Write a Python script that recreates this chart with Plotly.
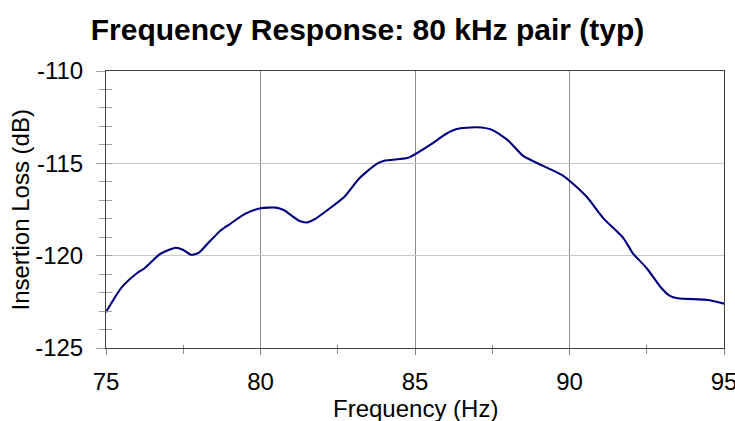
import plotly.graph_objects as go

freq = [75.0, 75.5, 76.0, 76.25, 76.75, 77.25, 77.5, 77.75, 78.0, 78.3, 78.7, 79.0, 79.5, 80.0,
        80.5, 80.75, 81.25, 81.5, 81.75, 82.2, 82.7, 83.2, 83.75, 84.0, 84.75, 85.0, 85.5, 86.0,
        86.35, 87.0, 87.5, 88.0, 88.5, 89.15, 89.75, 90.0, 90.55, 91.1, 91.75, 92.05, 92.5, 92.95,
        93.25, 93.5, 94.5, 95.0]
loss = [-123.06, -121.73, -120.95, -120.68, -119.91, -119.57, -119.69, -119.95, -119.85, -119.33,
        -118.65, -118.30, -117.74, -117.43, -117.40, -117.53, -118.11, -118.20, -118.03, -117.49,
        -116.84, -115.81, -115.04, -114.86, -114.71, -114.51, -113.99, -113.41, -113.14, -113.05,
        -113.19, -113.74, -114.60, -115.14, -115.63, -115.94, -116.80, -117.98, -119.06, -119.87,
        -120.68, -121.71, -122.18, -122.31, -122.40, -122.60]

x_ticks = [75, 80, 85, 90, 95]
x_minor = [77.5, 82.5, 87.5, 92.5]
y_ticks = [-110, -115, -120, -125]

title_text = "Frequency Response: 80 kHz pair (typ)"
x_title = "Frequency (Hz)"
y_title = "Insertion Loss (dB)"

FONT = "Liberation Sans, Arial, sans-serif"
W, H = 735, 421
L, R, T, B = 106, 11, 71, 73
PW, PH = W - L - R, H - T - B

fig = go.Figure()
fig.add_trace(go.Scatter(x=freq, y=loss, mode="lines",
                         line=dict(color="#000080", width=2.1, shape="spline", smoothing=0.6),
                         showlegend=False, hoverinfo="skip"))
# invisible trace to anchor the secondary (inside tick) axes
fig.add_trace(go.Scatter(x=[freq[0]], y=[loss[0]], xaxis="x2", yaxis="y2", mode="markers",
                         marker=dict(opacity=0), showlegend=False, hoverinfo="skip"))

fig.update_layout(
    width=W, height=H,
    margin=dict(l=L, r=R, t=T, b=B, autoexpand=False),
    paper_bgcolor="white", plot_bgcolor="white",
    font=dict(family=FONT, size=24, color="black"),
    title=dict(text="<b>" + title_text + "</b>", x=0.5, xanchor="center",
               y=1 - 29 / H, yanchor="middle", yref="container",
               font=dict(family=FONT, size=30, color="black")),
    xaxis=dict(range=[75, 95], tickvals=x_ticks, ticktext=[str(v) for v in x_ticks],
               automargin=False, ticklabeloverflow="allow",
               showgrid=True, gridcolor="#8c8c8c", gridwidth=1,
               showline=True, linecolor="#404040", linewidth=1, mirror=True,
               ticks="outside", ticklen=6, tickcolor="#808080", ticklabelstandoff=6,
               minor=dict(tickvals=x_minor, ticks="outside", ticklen=5,
                          tickcolor="#909090", showgrid=False),
               zeroline=False),
    yaxis=dict(range=[-125, -110], tickvals=y_ticks, ticktext=[str(v) for v in y_ticks],
               automargin=False, ticklabeloverflow="allow",
               showgrid=True, gridcolor="#c8c8c8", gridwidth=1,
               showline=True, linecolor="#404040", linewidth=1, mirror=True,
               ticks="outside", ticklen=9, tickcolor="#a0a0a0", ticklabelstandoff=8,
               minor=dict(dtick=1, tick0=-125, ticks="outside", ticklen=6,
                          tickcolor="#a0a0a0", showgrid=False),
               zeroline=False),
    xaxis2=dict(range=[75, 95], overlaying="x", anchor="y", side="bottom",
                showticklabels=False, showgrid=False, showline=False, zeroline=False,
                automargin=False,
                tickvals=x_ticks + x_minor, ticks="inside", ticklen=3,
                tickcolor="#909090"),
    yaxis2=dict(range=[-125, -110], overlaying="y", anchor="x", side="left",
                showticklabels=False, showgrid=False, showline=False, zeroline=False,
                automargin=False,
                dtick=1, tick0=-125, ticks="inside", ticklen=6, tickcolor="#a0a0a0"),
    annotations=[
        dict(text=x_title, xref="paper", yref="paper", x=0.5, y=-(408 - (T + PH)) / PH,
             xanchor="center", yanchor="middle", showarrow=False,
             font=dict(family=FONT, size=24, color="black")),
        dict(text=y_title, xref="paper", yref="paper", x=(20 - L) / PW, y=0.5,
             xanchor="center", yanchor="middle", textangle=-90, showarrow=False,
             font=dict(family=FONT, size=24, color="black")),
    ],
)

fig.write_html("out.html", config={"displayModeBar": False},
               post_script="document.body.style.margin='0';")
